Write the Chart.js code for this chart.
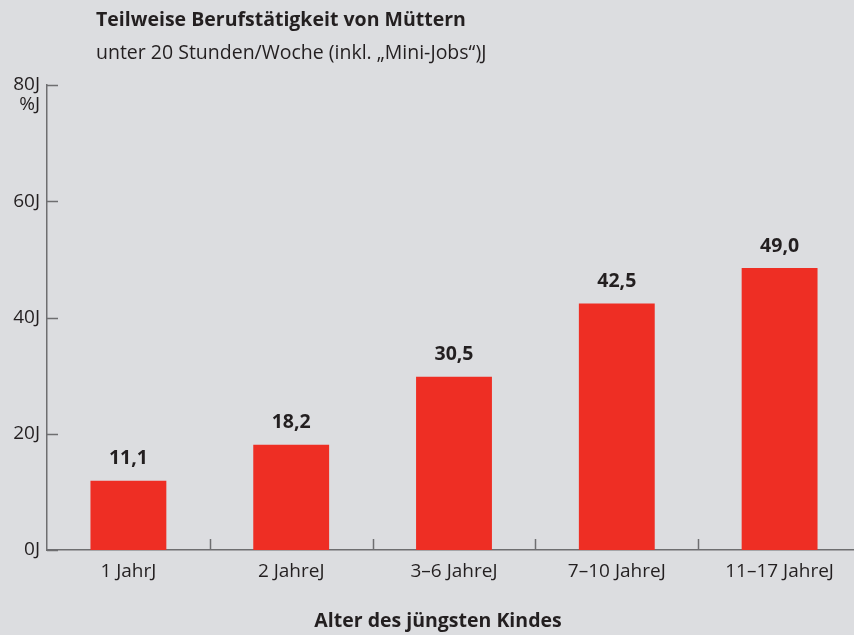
<!DOCTYPE html>
<html>
<head>
<meta charset="utf-8">
<script src="https://cdn.jsdelivr.net/npm/chart.js@4.4.1/dist/chart.umd.min.js"></script>
<style>
  html, body { margin: 0; padding: 0; background: #dcdde0; overflow: hidden; }
  #wrap { width: 854px; height: 635px; overflow: hidden; }
  canvas { display: block; }
</style>
</head>
<body>
<div id="wrap"><canvas id="mycanvas" width="861" height="635"></canvas></div>
<script>
var chartTitle = 'Teilweise Berufstätigkeit von Müttern';
var chartSubtitle = 'unter 20 Stunden/Woche (inkl. „Mini-Jobs“)J';
var axisTitle = 'Alter des jüngsten Kindes';
var unitLabel = '%J';

var categories = ['1 JahrJ', '2 JahreJ', '3–6 JahreJ', '7–10 JahreJ', '11–17 JahreJ'];
var barHeights = [11.9, 18.1, 29.8, 42.4, 48.5];   // as drawn in the picture
var valueLabels = ['11,1', '18,2', '30,5', '42,5', '49,0'];   // printed above the bars
var yTicks = [0, 20, 40, 60, 80];

var textColor = '#231f20';
var axisColor = '#6e6e70';
var fontName = "'Open Sans', 'Noto Sans', sans-serif";

// texte, kleine Striche an den Achsen, Werte ueber den Balken
var extras = {
	id: 'extras',
	afterDraw: function(chart) {
		var ctx = chart.ctx;
		var area = chart.chartArea;
		var xs = chart.scales.x;
		var ys = chart.scales.y;
		ctx.save();

		// Titel
		ctx.fillStyle = textColor;
		ctx.textBaseline = 'middle';
		ctx.textAlign = 'left';
		ctx.font = 'bold 19.5px ' + fontName;
		ctx.fillText(chartTitle, 96, 20);
		ctx.font = '19.5px ' + fontName;
		ctx.fillText(chartSubtitle, 96, 53);

		// Einheit unter 80
		ctx.textAlign = 'right';
		ctx.font = '19px ' + fontName;
		ctx.fillText(unitLabel, 40, ys.getPixelForValue(80) + 20);

		// Achsentitel
		ctx.textAlign = 'center';
		ctx.font = 'bold 19.5px ' + fontName;
		ctx.fillText(axisTitle, 438, 621);

		// Striche an der y-Achse
		ctx.strokeStyle = axisColor;
		ctx.lineWidth = 1.5;
		yTicks.forEach(function(v) {
			var y = Math.round(ys.getPixelForValue(v)) + 0.5;
			ctx.beginPath();
			ctx.moveTo(area.left, y);
			ctx.lineTo(area.left + 11, y);
			ctx.stroke();
		});

		// Striche zwischen den Kategorien
		for (var i = 1; i < categories.length; i++) {
			var x = Math.round((xs.getPixelForTick(i - 1) + xs.getPixelForTick(i)) / 2) + 0.5;
			ctx.beginPath();
			ctx.moveTo(x, area.bottom);
			ctx.lineTo(x, area.bottom - 11);
			ctx.stroke();
		}

		// Werte
		ctx.font = 'bold 19.5px ' + fontName;
		var meta = chart.getDatasetMeta(0);
		meta.data.forEach(function(bar, i) {
			ctx.fillText(valueLabels[i], bar.x, bar.y - 22);
		});
		ctx.restore();
	}
};

var chartdata = {
	labels: categories,
	datasets: [
		{
			label: 'Teilweise Berufstätigkeit',
			backgroundColor: '#ee2e24',
			borderWidth: 0,
			barPercentage: 0.466,
			categoryPercentage: 1.0,
			data: barHeights
		}
	]
};

var ctx = document.getElementById('mycanvas');

var barGraph = new Chart(ctx, {
	type: 'bar',
	data: chartdata,
	plugins: [extras],
	options: {
		responsive: false,
		animation: false,
		layout: { padding: { top: 85, right: 0, left: 0, bottom: 0 } },
		plugins: {
			legend: { display: false },
			tooltip: { enabled: false }
		},
		scales: {
			x: {
				afterFit: function(scale) { scale.height = 85; },
				grid: { display: false, drawTicks: false },
				border: { display: true, color: axisColor, width: 1.5 },
				ticks: {
					color: textColor,
					padding: 10,
					font: { family: fontName, size: 19 }
				}
			},
			y: {
				min: 0,
				max: 80,
				afterFit: function(scale) { scale.width = 47; },
				afterBuildTicks: function(scale) {
					scale.ticks = yTicks.map(function(v) { return { value: v }; });
				},
				grid: { display: false, drawTicks: false },
				border: { display: true, color: axisColor, width: 1.5 },
				ticks: {
					color: textColor,
					padding: 7,
					font: { family: fontName, size: 19 },
					callback: function(value) { return value + 'J'; }
				}
			}
		}
	}
});
</script>
</body>
</html>
